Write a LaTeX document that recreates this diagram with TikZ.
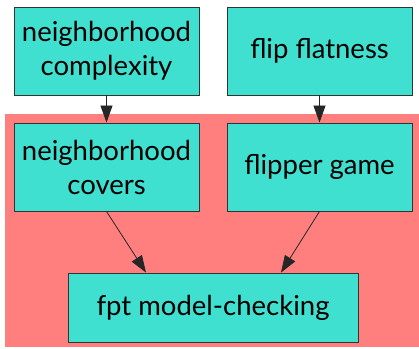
\documentclass[tikz,border=0pt]{standalone}
\usepackage{fontspec}
\setmainfont{Lato}
\usetikzlibrary{arrows.meta}
\definecolor{turq}{HTML}{40E0D0}
\definecolor{lightred}{HTML}{FF7F7F}
\tikzset{
  box/.style    ={draw=black!80, fill=turq, line width=0.9pt, align=center,
                  minimum width=185pt, minimum height=88pt, inner sep=0pt,
                  font=\fontsize{27.5}{34}\selectfont},
  cluster/.style={fill=lightred},
  edge/.style   ={draw=black!85, line width=0.8pt, -{Triangle[length=17pt,width=12pt]}},
}
\begin{document}
\begin{tikzpicture}[x=1pt,y=-1pt]
  \useasboundingbox (0,0) rectangle (419,348);
  \fill[cluster] (5,114) rectangle (419,347);
  \node[box] (nbcx)  at (106.5,51)  {neighborhood\\complexity};
  \node[box] (flat)  at (319.5,51)  {flip flatness};
  \node[box] (nbcov) at (106.5,167) {neighborhood\\covers};
  \node[box] (game)  at (319.5,167) {flipper game};
  \node[box, minimum width=290pt, minimum height=69pt] (fpt) at (213,307.5) {fpt model-checking};
  \draw[edge] (nbcx) -- (nbcov);
  \draw[edge] (flat) -- (game);
  \draw[edge] (nbcov.south) -- ([xshift=-67pt]fpt.north);
  \draw[edge] (game.south) -- ([xshift=68pt]fpt.north);
\end{tikzpicture}
\end{document}
